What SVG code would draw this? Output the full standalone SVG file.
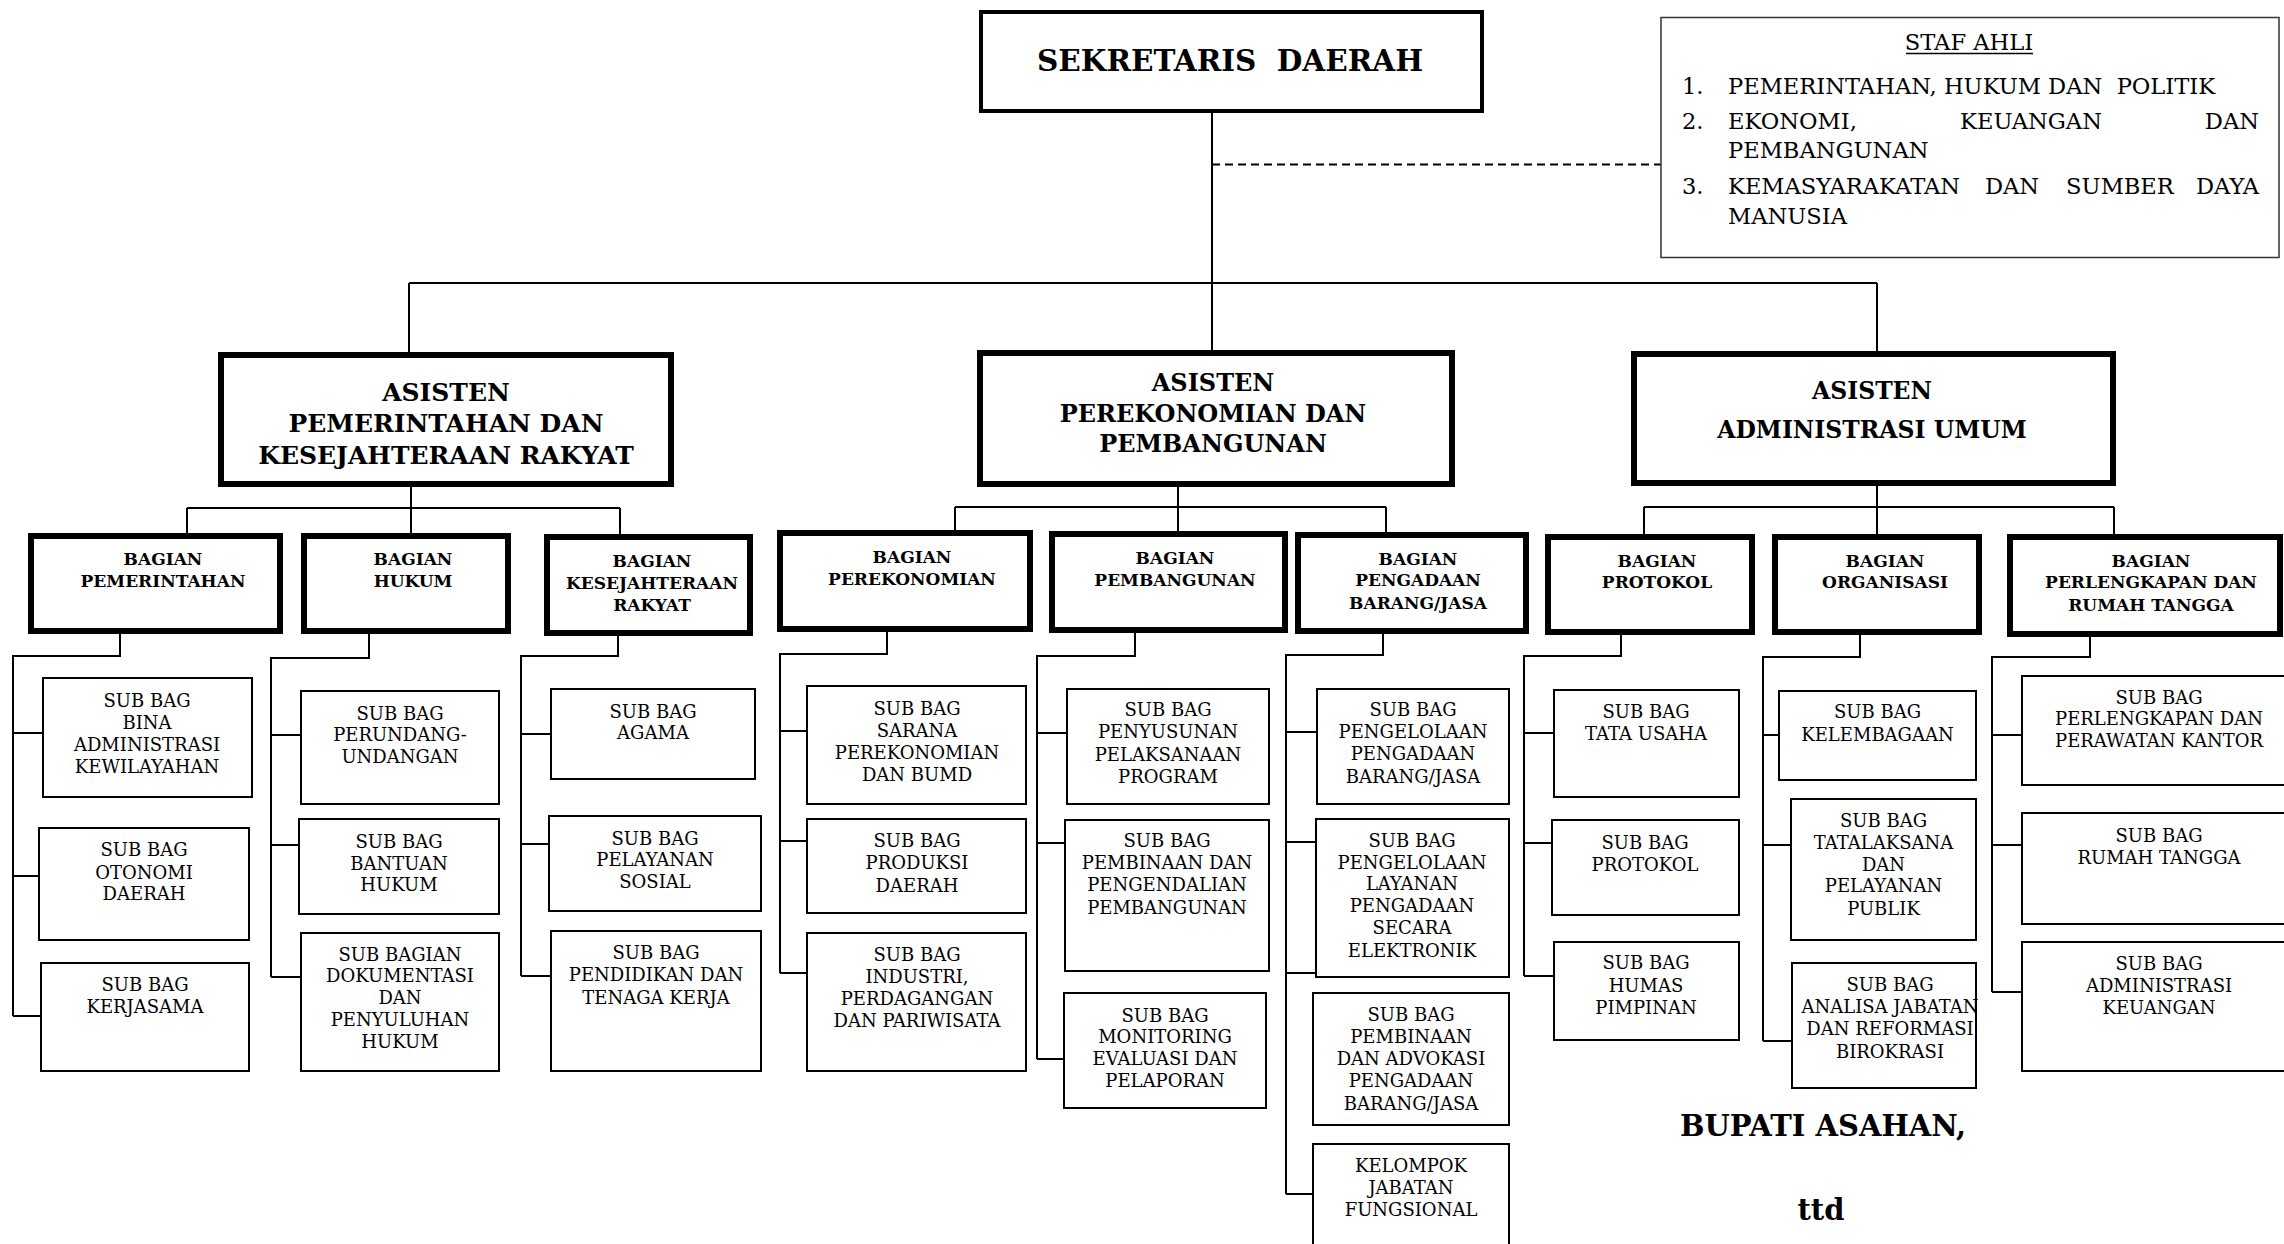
<svg xmlns="http://www.w3.org/2000/svg" width="2284" height="1244" viewBox="0 0 2284 1244">
<style>
.bg{fill:#fff}
.top{fill:#fff;stroke:#000;stroke-width:4}
.ast{fill:#fff;stroke:#000;stroke-width:6}
.bag{fill:#fff;stroke:#000;stroke-width:6}
.sub{fill:#fff;stroke:#000;stroke-width:2}
.staf{fill:#fff;stroke:#333;stroke-width:1.5}
.ln{fill:none;stroke:#000;stroke-width:2}
.dash{fill:none;stroke:#000;stroke-width:2;stroke-dasharray:8 5}
.t1{font-family:"DejaVu Serif",serif;font-weight:bold;font-size:29.5px;text-anchor:middle}
.ta{font-family:"DejaVu Serif",serif;font-weight:bold;font-size:23.5px;text-anchor:middle}
.tb{font-family:"DejaVu Serif",serif;font-weight:bold;font-size:17px;text-anchor:middle}
.ts{font-family:"DejaVu Serif",serif;font-size:18px;text-anchor:middle}
.tl{font-family:"DejaVu Serif",serif;font-size:22.6px}
.tf{font-family:"DejaVu Serif",serif;font-weight:bold;font-size:29px;text-anchor:middle}
</style>
<rect class="bg" x="0" y="0" width="2284" height="1244"/>

<g id="connectors">
<path class="ln" d="M1212,111 V353"/>
<path class="ln" d="M409,283 H1877"/>
<path class="ln" d="M409,283 V355"/>
<path class="ln" d="M1877,283 V354"/>
<path class="dash" d="M1212,164.5 H1661"/>
<path class="ln" d="M411,487 V508 M187,508 H620 M187,508 V533 M411,508 V533 M620,508 V534"/>
<path class="ln" d="M1178,487 V507 M955,507 H1386 M955,507 V530 M1178,507 V531 M1386,507 V532"/>
<path class="ln" d="M1877,486 V507 M1644,507 H2114 M1644,507 V534 M1877,507 V534 M2114,507 V534"/>
<path class="ln" d="M120,634 V656 H13 V1016 M13,733 H42 M13,876 H38 M13,1016 H40"/>
<path class="ln" d="M369,634 V658 H271 V977 M271,735 H300 M271,845 H298 M271,977 H300"/>
<path class="ln" d="M618,636 V656 H521 V976 M521,734 H550 M521,844 H548 M521,976 H550"/>
<path class="ln" d="M887,632 V654 H780 V973 M780,731 H806 M780,841 H806 M780,973 H806"/>
<path class="ln" d="M1135,633 V656 H1037 V1059 M1037,733 H1066 M1037,843 H1064 M1037,1059 H1063"/>
<path class="ln" d="M1383,634 V655 H1286 V1194 M1286,732 H1316 M1286,842 H1315 M1286,973 H1315 M1286,1194 H1312"/>
<path class="ln" d="M1621,635 V656 H1524 V976 M1524,733 H1553 M1524,843 H1551 M1524,976 H1553"/>
<path class="ln" d="M1860,635 V657 H1763 V1041 M1763,735 H1778 M1763,845 H1790 M1763,1041 H1791"/>
<path class="ln" d="M2090,637 V657 H1992 V992 M1992,735 H2021 M1992,845 H2021 M1992,992 H2021"/>
</g>

<g id="sekretaris-daerah">
<rect class="top" x="981" y="12" width="501" height="99"/>
<text class="t1" x="1230" y="70.5" xml:space="preserve">SEKRETARIS  DAERAH</text>
</g>

<g id="staf-ahli">
<rect class="staf" x="1661" y="17.5" width="618" height="240"/>
<text class="tl" x="1969" y="50" text-anchor="middle">STAF AHLI</text>
<path d="M1906,53.5 H2033" stroke="#000" stroke-width="1.5"/>
<text class="tl" x="1682" y="94">1.</text>
<text class="tl" x="1728" y="94" xml:space="preserve">PEMERINTAHAN, HUKUM DAN  POLITIK</text>
<text class="tl" x="1682" y="129">2.</text>
<text class="tl" x="1728" y="129">EKONOMI,</text>
<text class="tl" x="2031" y="129" text-anchor="middle">KEUANGAN</text>
<text class="tl" x="2259" y="129" text-anchor="end">DAN</text>
<text class="tl" x="1728" y="158">PEMBANGUNAN</text>
<text class="tl" x="1682" y="194">3.</text>
<text class="tl" x="1728" y="194">KEMASYARAKATAN</text>
<text class="tl" x="2012" y="194" text-anchor="middle">DAN</text>
<text class="tl" x="2120" y="194" text-anchor="middle">SUMBER</text>
<text class="tl" x="2259" y="194" text-anchor="end">DAYA</text>
<text class="tl" x="1728" y="224">MANUSIA</text>
</g>

<g id="asisten-pemerintahan">
<rect class="ast" x="221" y="355" width="450" height="129"/>
<text class="ta" style="font-size:25px"><tspan x="446" y="401">ASISTEN</tspan><tspan x="446" y="432">PEMERINTAHAN DAN</tspan><tspan x="446" y="464">KESEJAHTERAAN RAKYAT</tspan></text>
</g>
<g id="asisten-perekonomian">
<rect class="ast" x="980" y="353" width="472" height="131"/>
<text class="ta" style="font-size:24px"><tspan x="1213" y="390.6">ASISTEN</tspan><tspan x="1213" y="421.6">PEREKONOMIAN DAN</tspan><tspan x="1213" y="451.6">PEMBANGUNAN</tspan></text>
</g>
<g id="asisten-administrasi">
<rect class="ast" x="1634" y="354" width="479" height="129"/>
<text class="ta"><tspan x="1872" y="398.5">ASISTEN</tspan><tspan x="1872" y="437.5">ADMINISTRASI UMUM</tspan></text>
</g>

<g id="bagian-pemerintahan">
<rect class="bag" x="31" y="536" width="249" height="95"/>
<text class="tb"><tspan x="163" y="565.2">BAGIAN</tspan><tspan x="163" y="587.2">PEMERINTAHAN</tspan></text>
</g>
<g id="bagian-hukum">
<rect class="bag" x="304" y="536" width="204" height="95"/>
<text class="tb"><tspan x="413" y="565.2">BAGIAN</tspan><tspan x="413" y="587.2">HUKUM</tspan></text>
</g>
<g id="bagian-kesra">
<rect class="bag" x="547" y="537" width="203" height="96"/>
<text class="tb"><tspan x="652" y="567.2">BAGIAN</tspan><tspan x="652" y="588.7">KESEJAHTERAAN</tspan><tspan x="652" y="611.2">RAKYAT</tspan></text>
</g>
<g id="bagian-perekonomian">
<rect class="bag" x="780" y="533" width="250" height="96"/>
<text class="tb"><tspan x="912" y="563.2">BAGIAN</tspan><tspan x="912" y="585.2">PEREKONOMIAN</tspan></text>
</g>
<g id="bagian-pembangunan">
<rect class="bag" x="1052" y="534" width="233" height="96"/>
<text class="tb"><tspan x="1175" y="564.2">BAGIAN</tspan><tspan x="1175" y="586.2">PEMBANGUNAN</tspan></text>
</g>
<g id="bagian-pengadaan">
<rect class="bag" x="1298" y="535" width="228" height="96"/>
<text class="tb"><tspan x="1418" y="565.2">BAGIAN</tspan><tspan x="1418" y="586.2">PENGADAAN</tspan><tspan x="1418" y="609.2">BARANG/JASA</tspan></text>
</g>
<g id="bagian-protokol">
<rect class="bag" x="1548" y="537" width="204" height="95"/>
<text class="tb"><tspan x="1657" y="566.6">BAGIAN</tspan><tspan x="1657" y="588.2">PROTOKOL</tspan></text>
</g>
<g id="bagian-organisasi">
<rect class="bag" x="1775" y="537" width="204" height="95"/>
<text class="tb"><tspan x="1885" y="566.6">BAGIAN</tspan><tspan x="1885" y="588.2">ORGANISASI</tspan></text>
</g>
<g id="bagian-perlengkapan">
<rect class="bag" x="2010" y="537" width="270" height="97"/>
<text class="tb"><tspan x="2151" y="566.6">BAGIAN</tspan><tspan x="2151" y="588.2">PERLENGKAPAN DAN</tspan><tspan x="2151" y="610.7">RUMAH TANGGA</tspan></text>
</g>

<g id="sub-bina-admin">
<rect class="sub" x="43" y="678" width="209" height="119"/>
<text class="ts"><tspan x="147" y="706.5">SUB BAG</tspan><tspan x="147" y="728.5">BINA</tspan><tspan x="147" y="750.5">ADMINISTRASI</tspan><tspan x="147" y="772.5">KEWILAYAHAN</tspan></text>
</g>
<g id="sub-otonomi">
<rect class="sub" x="39" y="828" width="210" height="112"/>
<text class="ts"><tspan x="144" y="855.5">SUB BAG</tspan><tspan x="144" y="878.5">OTONOMI</tspan><tspan x="144" y="899.5">DAERAH</tspan></text>
</g>
<g id="sub-kerjasama">
<rect class="sub" x="41" y="963" width="208" height="108"/>
<text class="ts"><tspan x="145" y="990.5">SUB BAG</tspan><tspan x="145" y="1012.5">KERJASAMA</tspan></text>
</g>
<g id="sub-perundang">
<rect class="sub" x="301" y="691" width="198" height="113"/>
<text class="ts"><tspan x="400" y="719.5">SUB BAG</tspan><tspan x="400" y="740.5">PERUNDANG-</tspan><tspan x="400" y="762.5">UNDANGAN</tspan></text>
</g>
<g id="sub-bantuan-hukum">
<rect class="sub" x="299" y="819" width="200" height="95"/>
<text class="ts"><tspan x="399" y="847.5">SUB BAG</tspan><tspan x="399" y="869.5">BANTUAN</tspan><tspan x="399" y="890.5">HUKUM</tspan></text>
</g>
<g id="sub-dokumentasi">
<rect class="sub" x="301" y="933" width="198" height="138"/>
<text class="ts"><tspan x="400" y="960.5">SUB BAGIAN</tspan><tspan x="400" y="981.5">DOKUMENTASI</tspan><tspan x="400" y="1003.5">DAN</tspan><tspan x="400" y="1025.5">PENYULUHAN</tspan><tspan x="400" y="1047.5">HUKUM</tspan></text>
</g>
<g id="sub-agama">
<rect class="sub" x="551" y="689" width="204" height="90"/>
<text class="ts"><tspan x="653" y="717.5">SUB BAG</tspan><tspan x="653" y="739">AGAMA</tspan></text>
</g>
<g id="sub-pelayanan-sosial">
<rect class="sub" x="549" y="816" width="212" height="95"/>
<text class="ts"><tspan x="655" y="844.5">SUB BAG</tspan><tspan x="655" y="865.5">PELAYANAN</tspan><tspan x="655" y="887.5">SOSIAL</tspan></text>
</g>
<g id="sub-pendidikan">
<rect class="sub" x="551" y="931" width="210" height="140"/>
<text class="ts"><tspan x="656" y="958.5">SUB BAG</tspan><tspan x="656" y="980.5">PENDIDIKAN DAN</tspan><tspan x="656" y="1003.5">TENAGA KERJA</tspan></text>
</g>
<g id="sub-sarana">
<rect class="sub" x="807" y="686" width="219" height="118"/>
<text class="ts"><tspan x="917" y="714.5">SUB BAG</tspan><tspan x="917" y="736.5">SARANA</tspan><tspan x="917" y="758.5">PEREKONOMIAN</tspan><tspan x="917" y="780.5">DAN BUMD</tspan></text>
</g>
<g id="sub-produksi">
<rect class="sub" x="807" y="819" width="219" height="94"/>
<text class="ts"><tspan x="917" y="846.5">SUB BAG</tspan><tspan x="917" y="868.5">PRODUKSI</tspan><tspan x="917" y="891.5">DAERAH</tspan></text>
</g>
<g id="sub-industri">
<rect class="sub" x="807" y="933" width="219" height="138"/>
<text class="ts"><tspan x="917" y="960.5">SUB BAG</tspan><tspan x="917" y="982.5">INDUSTRI,</tspan><tspan x="917" y="1004.5">PERDAGANGAN</tspan><tspan x="917" y="1026.5">DAN PARIWISATA</tspan></text>
</g>
<g id="sub-penyusunan">
<rect class="sub" x="1067" y="689" width="202" height="115"/>
<text class="ts"><tspan x="1168" y="715.5">SUB BAG</tspan><tspan x="1168" y="737.5">PENYUSUNAN</tspan><tspan x="1168" y="760.5">PELAKSANAAN</tspan><tspan x="1168" y="782.5">PROGRAM</tspan></text>
</g>
<g id="sub-pembinaan-pengendalian">
<rect class="sub" x="1065" y="820" width="204" height="151"/>
<text class="ts"><tspan x="1167" y="846.5">SUB BAG</tspan><tspan x="1167" y="869">PEMBINAAN DAN</tspan><tspan x="1167" y="890.5">PENGENDALIAN</tspan><tspan x="1167" y="913.5">PEMBANGUNAN</tspan></text>
</g>
<g id="sub-monitoring">
<rect class="sub" x="1064" y="993" width="202" height="115"/>
<text class="ts"><tspan x="1165" y="1021.5">SUB BAG</tspan><tspan x="1165" y="1042.5">MONITORING</tspan><tspan x="1165" y="1064.5">EVALUASI DAN</tspan><tspan x="1165" y="1086.5">PELAPORAN</tspan></text>
</g>
<g id="sub-pengelolaan-pengadaan">
<rect class="sub" x="1317" y="689" width="192" height="115"/>
<text class="ts"><tspan x="1413" y="715.5">SUB BAG</tspan><tspan x="1413" y="737.5">PENGELOLAAN</tspan><tspan x="1413" y="759.5">PENGADAAN</tspan><tspan x="1413" y="782.5">BARANG/JASA</tspan></text>
</g>
<g id="sub-pengelolaan-layanan">
<rect class="sub" x="1316" y="819" width="193" height="158"/>
<text class="ts"><tspan x="1412" y="846.5">SUB BAG</tspan><tspan x="1412" y="868.5">PENGELOLAAN</tspan><tspan x="1412" y="889.5">LAYANAN</tspan><tspan x="1412" y="912">PENGADAAN</tspan><tspan x="1412" y="933.5">SECARA</tspan><tspan x="1412" y="956.5">ELEKTRONIK</tspan></text>
</g>
<g id="sub-pembinaan-advokasi">
<rect class="sub" x="1313" y="993" width="196" height="132"/>
<text class="ts"><tspan x="1411" y="1020.5">SUB BAG</tspan><tspan x="1411" y="1042.5">PEMBINAAN</tspan><tspan x="1411" y="1064.5">DAN ADVOKASI</tspan><tspan x="1411" y="1086.5">PENGADAAN</tspan><tspan x="1411" y="1109.5">BARANG/JASA</tspan></text>
</g>
<g id="kelompok-jabatan-fungsional">
<rect class="sub" x="1313" y="1144" width="196" height="120"/>
<text class="ts"><tspan x="1411" y="1171.5">KELOMPOK</tspan><tspan x="1411" y="1193.5">JABATAN</tspan><tspan x="1411" y="1215.5">FUNGSIONAL</tspan></text>
</g>
<g id="sub-tata-usaha">
<rect class="sub" x="1554" y="690" width="185" height="107"/>
<text class="ts"><tspan x="1646" y="718">SUB BAG</tspan><tspan x="1646" y="739.5">TATA USAHA</tspan></text>
</g>
<g id="sub-protokol">
<rect class="sub" x="1552" y="820" width="187" height="95"/>
<text class="ts"><tspan x="1645" y="848.5">SUB BAG</tspan><tspan x="1645" y="870.5">PROTOKOL</tspan></text>
</g>
<g id="sub-humas">
<rect class="sub" x="1554" y="942" width="185" height="98"/>
<text class="ts"><tspan x="1646" y="968.5">SUB BAG</tspan><tspan x="1646" y="991.5">HUMAS</tspan><tspan x="1646" y="1013.5">PIMPINAN</tspan></text>
</g>
<g id="sub-kelembagaan">
<rect class="sub" x="1779" y="691" width="197" height="89"/>
<text class="ts"><tspan x="1877.5" y="718">SUB BAG</tspan><tspan x="1877.5" y="740.5">KELEMBAGAAN</tspan></text>
</g>
<g id="sub-tatalaksana">
<rect class="sub" x="1791" y="799" width="185" height="141"/>
<text class="ts"><tspan x="1883.5" y="826.5">SUB BAG</tspan><tspan x="1883.5" y="848.5">TATALAKSANA</tspan><tspan x="1883.5" y="870.5">DAN</tspan><tspan x="1883.5" y="892">PELAYANAN</tspan><tspan x="1883.5" y="914.5">PUBLIK</tspan></text>
</g>
<g id="sub-analisa-jabatan">
<rect class="sub" x="1792" y="963" width="184" height="125"/>
<text class="ts"><tspan x="1890" y="990.5">SUB BAG</tspan><tspan x="1890" y="1012.5">ANALISA JABATAN</tspan><tspan x="1890" y="1034.5">DAN REFORMASI</tspan><tspan x="1890" y="1057.5">BIROKRASI</tspan></text>
</g>
<g id="sub-perlengkapan">
<rect class="sub" x="2022" y="676" width="280" height="109"/>
<text class="ts"><tspan x="2159" y="703.5">SUB BAG</tspan><tspan x="2159" y="725">PERLENGKAPAN DAN</tspan><tspan x="2159" y="747">PERAWATAN KANTOR</tspan></text>
</g>
<g id="sub-rumah-tangga">
<rect class="sub" x="2022" y="813" width="280" height="111"/>
<text class="ts"><tspan x="2159" y="841.5">SUB BAG</tspan><tspan x="2159" y="863.5">RUMAH TANGGA</tspan></text>
</g>
<g id="sub-administrasi-keuangan">
<rect class="sub" x="2022" y="942" width="280" height="129"/>
<text class="ts"><tspan x="2159" y="969.5">SUB BAG</tspan><tspan x="2159" y="991.5">ADMINISTRASI</tspan><tspan x="2159" y="1013.5">KEUANGAN</tspan></text>
</g>

<g id="signature">
<text class="tf" x="1823" y="1135.5">BUPATI ASAHAN,</text>
<text class="tf" x="1821" y="1219.5">ttd</text>
</g>
</svg>
